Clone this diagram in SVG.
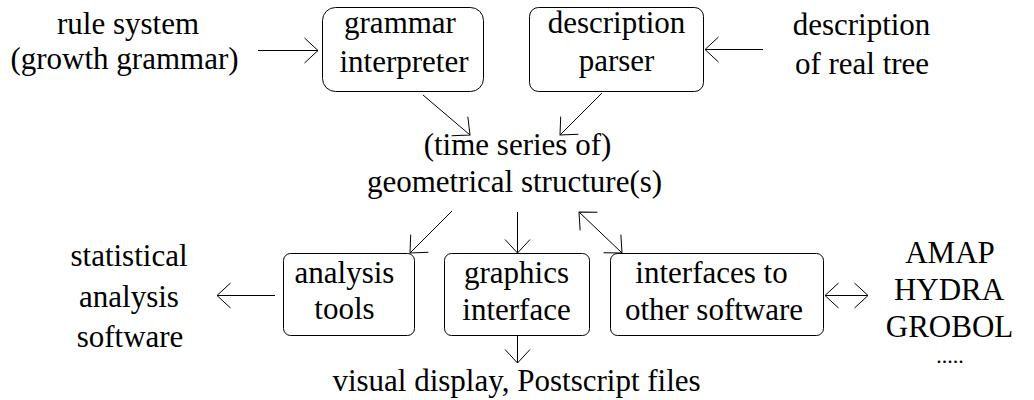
<svg xmlns="http://www.w3.org/2000/svg" width="1034" height="400" viewBox="0 0 1034 400">
<style>
text{fill:#000;text-anchor:middle}
.box{fill:none;stroke:#000;stroke-width:1}
.con{fill:none;stroke:#000;stroke-width:1}
</style>
<defs>
<marker id="ah" viewBox="-16 -16 32 32" refX="0" refY="0" markerWidth="32" markerHeight="32" markerUnits="userSpaceOnUse" orient="auto-start-reverse" overflow="visible">
<path d="M-13.5,-12.5 L0,0 L-13.5,12.5" fill="none" stroke="#000" stroke-width="1"/>
</marker>
</defs>
<rect width="1034" height="400" fill="#fff"/>

<g id="diagram" font-family="Liberation Serif" font-size="31">
<g id="rule-system">
<text x="128" y="34">rule system</text>
<text x="124.5" y="69">(growth grammar)</text>
</g>
<g id="grammar-interpreter">
<rect class="box" x="322.5" y="7.5" width="161" height="84" rx="13"/>
<text x="400" y="33">grammar</text>
<text x="404" y="72">interpreter</text>
</g>
<g id="description-parser">
<rect class="box" x="529.5" y="7.5" width="174" height="84" rx="9"/>
<text x="616.5" y="33">description</text>
<text x="616.5" y="71">parser</text>
</g>
<g id="real-tree">
<text x="861.5" y="35">description</text>
<text x="862" y="74">of real tree</text>
</g>
<g id="geometrical-structures">
<text x="517.5" y="155">(time series of)</text>
<text x="514.5" y="192">geometrical structure(s)</text>
</g>
<g id="statistical-software">
<text x="129" y="266">statistical</text>
<text x="129" y="307">analysis</text>
<text x="130" y="347">software</text>
</g>
<g id="analysis-tools">
<rect class="box" x="283.5" y="253.5" width="131" height="82" rx="7"/>
<text x="344.5" y="283">analysis</text>
<text x="344.5" y="319">tools</text>
</g>
<g id="graphics-interface">
<rect class="box" x="444.5" y="253.5" width="145" height="82" rx="7"/>
<text x="516.5" y="283">graphics</text>
<text x="516.5" y="320">interface</text>
</g>
<g id="interfaces-other-software">
<rect class="box" x="610.5" y="253.5" width="213" height="82" rx="7"/>
<text x="711.5" y="283">interfaces to</text>
<text x="714" y="320">other software</text>
</g>
<g id="other-programs">
<text x="950" y="263">AMAP</text>
<text x="949" y="300">HYDRA</text>
<text x="949.5" y="337">GROBOL</text>
<text x="950" y="363" font-size="22">.....</text>
</g>
<g id="visual-display">
<text x="516.5" y="391">visual display, Postscript files</text>
</g>
</g>

<g id="connectors" class="con">
<line class="con" x1="258" y1="50.5" x2="318" y2="50.5" marker-end="url(#ah)"/>
<line class="con" x1="763" y1="49.5" x2="705" y2="49.5" marker-end="url(#ah)"/>
<line class="con" x1="423" y1="95" x2="470" y2="135" marker-end="url(#ah)"/>
<line class="con" x1="602" y1="93" x2="560" y2="135" marker-end="url(#ah)"/>
<line class="con" x1="452" y1="211" x2="410" y2="253" marker-end="url(#ah)"/>
<line class="con" x1="517.5" y1="212" x2="517.5" y2="253" marker-end="url(#ah)"/>
<line class="con" x1="579" y1="212" x2="622" y2="253" marker-start="url(#ah)" marker-end="url(#ah)"/>
<line class="con" x1="517.5" y1="336" x2="517.5" y2="363" marker-end="url(#ah)"/>
<line class="con" x1="275" y1="295.5" x2="217" y2="295.5" marker-end="url(#ah)"/>
<line class="con" x1="825" y1="295.5" x2="868" y2="295.5" marker-start="url(#ah)" marker-end="url(#ah)"/>
</g>
</svg>
